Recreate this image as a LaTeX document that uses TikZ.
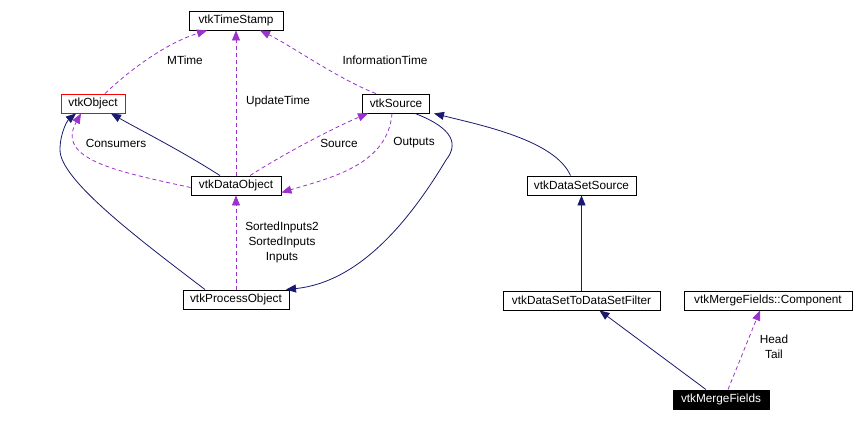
\documentclass[tikz,border=0pt]{standalone}
\usepackage{fontspec}
\setmainfont{Liberation Sans}
\usetikzlibrary{arrows.meta}
\definecolor{dep}{HTML}{9A32CD}
\definecolor{inh}{HTML}{191970}
\begin{document}
\begin{tikzpicture}[x=1pt,y=-1pt,
  cls/.style={draw=black,line width=0.9pt,fill=white,minimum height=19pt,inner ysep=0pt,inner xsep=7pt,font=\fontsize{11.8}{13}\selectfont},
  inhline/.style={draw=inh,line width=0.8pt,-{Triangle[length=10pt,width=8pt]}},
  depline/.style={draw=dep,line width=0.8pt,dash pattern=on 4pt off 3pt,-{Triangle[length=10pt,width=8pt,fill=dep]}},
  lbl/.style={font=\fontsize{11.8}{15}\selectfont,align=center,inner sep=0pt}]
\useasboundingbox (0,0) rectangle (854,421);
\fill[white] (0,0) rectangle (854,421);

\node[cls,minimum width=94pt] (ts) at (236,20.5) {vtkTimeStamp};
\node[cls,draw=red,minimum width=64pt] (obj) at (93,103.5) {vtkObject};
\node[cls,minimum width=66pt] (src) at (396,103.5) {vtkSource};
\node[cls,minimum width=90pt] (dobj) at (236,185.5) {vtkDataObject};
\node[cls,minimum width=106pt] (po) at (236,299.5) {vtkProcessObject};
\node[cls,minimum width=109pt] (dss) at (581.5,185.5) {vtkDataSetSource};
\node[cls,minimum width=157pt] (dsf) at (581.5,300.5) {vtkDataSetToDataSetFilter};
\node[cls,minimum width=168pt] (comp) at (768,300.5) {vtkMergeFields::Component};
\node[cls,fill=black,text=white,minimum width=96pt] (mf) at (721,399.5) {vtkMergeFields};

% dependencies to vtkTimeStamp
\draw[depline] ([xshift=12pt]obj.north) .. controls (135,65) and (170,42) .. ([xshift=-29pt]ts.south);
\draw[depline] (dobj.north) -- (ts.south);
\draw[depline] ([xshift=-20pt]src.north) .. controls (340,80) and (290,45) .. ([xshift=24pt]ts.south);

% vtkDataObject relations
\draw[inhline] ([xshift=-16pt]dobj.north) .. controls (180,150) and (140,130) .. ([xshift=18pt]obj.south);
\draw[depline] ([yshift=-2pt]dobj.west) .. controls (120,172) and (55,160) .. ([xshift=-12pt]obj.south);
\draw[depline] ([xshift=14pt]dobj.north) .. controls (290,150) and (340,125) .. ([xshift=-28pt]src.south);
\draw[depline] ([xshift=-4pt]src.south) .. controls (388,165) and (330,178) .. ([yshift=-7pt]dobj.east);

% vtkProcessObject relations
\draw[inhline] ([xshift=-31pt]po.north) .. controls (140,240) and (60,180) .. (60,150) .. controls (60,132) and (68,120) .. ([xshift=-17pt]obj.south);
\draw[inhline] ([xshift=19pt]src.south) .. controls (445,125) and (462,140) .. (446,160) .. controls (410,220) and (360,282) .. ([xshift=50pt]po.north);
\draw[depline] (po.north) -- (dobj.south);

% right part
\draw[inhline] ([xshift=-11pt]dss.north) .. controls (555,140) and (480,125) .. ([xshift=38pt]src.south);
\draw[inhline] (dsf.north) -- (dss.south);
\draw[inhline] ([xshift=-15pt]mf.north) -- ([xshift=18pt]dsf.south);
\draw[depline] ([xshift=7pt]mf.north) -- ([xshift=-8pt]comp.south);

% labels
\node[lbl] (l1) at (185,60) {MTime};
\node[lbl] (l2) at (278,101) {UpdateTime};
\node[lbl] (l3) at (385,60) {InformationTime};
\node[lbl] (l4) at (116,143) {Consumers};
\node[lbl] (l5) at (339,143) {Source};
\node[lbl] (l6) at (414,143) {Outputs};
\node[lbl] (l7) at (282,242) {SortedInputs2\\SortedInputs\\Inputs};
\node[lbl] (l8) at (774,347) {Head\\Tail};
\end{tikzpicture}
\end{document}
